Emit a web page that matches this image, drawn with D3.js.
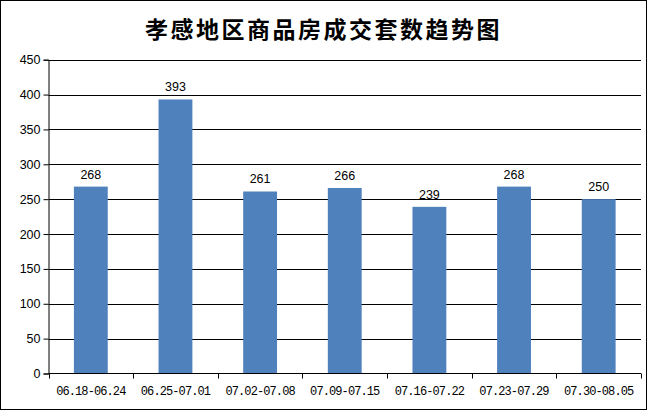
<!DOCTYPE html>
<html><head><meta charset="utf-8">
<script src="https://cdn.jsdelivr.net/npm/d3@7"></script>
<style>body{margin:0;background:#fff}svg{display:block}</style>
</head><body>
<svg id="c" width="647" height="410"></svg>
<script>
const title = "孝感地区商品房成交套数趋势图";
const categories = ["06.18-06.24","06.25-07.01","07.02-07.08","07.09-07.15","07.16-07.22","07.23-07.29","07.30-08.05"];
const values = [268, 393, 261, 266, 239, 268, 250];
const yTicks = [0, 50, 100, 150, 200, 250, 300, 350, 400, 450];

const svg = d3.select("#c");
const W = 647, H = 410;
const m = {left: 48.5, right: 641, top: 59.7, bottom: 373.5};

svg.append("rect").attr("x",0.5).attr("y",0.5).attr("width",W-1).attr("height",H-1)
  .attr("fill","#fff").attr("stroke","#000").attr("stroke-width",1);

svg.append("text").attr("x", W/2).attr("y", 38).attr("text-anchor","middle")
  .attr("font-family","'Noto Sans CJK SC', sans-serif").attr("font-weight","bold")
  .attr("font-size", 23).attr("letter-spacing", 2.5).attr("fill","#000").text(title);

const x = d3.scaleBand().domain(categories).range([m.left, m.right]).paddingInner(0).paddingOuter(0);
const y = d3.scaleLinear().domain([0, 450]).range([m.bottom, m.top]);

// gridlines
svg.append("g").selectAll("line").data(yTicks.filter(d=>d>0)).join("line")
  .attr("x1", m.left).attr("x2", m.right)
  .attr("y1", d=>Math.round(y(d))+0.5).attr("y2", d=>Math.round(y(d))+0.5)
  .attr("stroke","#000").attr("stroke-width",1);

// bars
const bw = x.bandwidth()*0.4;
svg.append("g").selectAll("rect").data(values).join("rect")
  .attr("x", (d,i)=> x(categories[i]) + x.bandwidth()/2 - bw/2)
  .attr("y", d=>y(d)).attr("width", bw).attr("height", d=>y(0)-y(d))
  .attr("fill","#4F81BD");

// data labels
svg.append("g").selectAll("text").data(values).join("text")
  .attr("x", (d,i)=> x(categories[i]) + x.bandwidth()/2)
  .attr("y", d=>y(d)-8).attr("text-anchor","middle")
  .attr("font-family","'Liberation Sans', Arial, sans-serif").attr("font-size",12.5)
  .attr("fill","#000").text(d=>d);

// y axis
const yAxis = d3.axisLeft(y).tickValues(yTicks).tickSize(5).tickPadding(3);
const gy = svg.append("g").attr("transform",`translate(${m.left},0)`).call(yAxis);
gy.select(".domain").attr("stroke","#000");
gy.selectAll("text").attr("font-family","'Liberation Sans', Arial, sans-serif").attr("font-size",12.5).attr("fill","#000");

// x axis
const gx = svg.append("g").attr("transform",`translate(0,${m.bottom})`);
gx.append("line").attr("x1",m.left).attr("x2",m.right).attr("y1",0).attr("y2",0).attr("stroke","#000");
const bounds = categories.map(c=>x(c)).concat([m.right]);
gx.selectAll("line.t").data(bounds).join("line").attr("class","t")
  .attr("x1",d=>Math.round(d)+0.5).attr("x2",d=>Math.round(d)+0.5).attr("y1",0).attr("y2",5).attr("stroke","#000");
gx.selectAll("text").data(categories).join("text")
  .attr("x", d=>x(d)+x.bandwidth()/2).attr("y", 21).attr("text-anchor","middle")
  .attr("font-family","'Liberation Mono', monospace").attr("font-size",12).attr("letter-spacing",-0.9)
  .attr("fill","#000").text(d=>d);
</script>
</body></html>
